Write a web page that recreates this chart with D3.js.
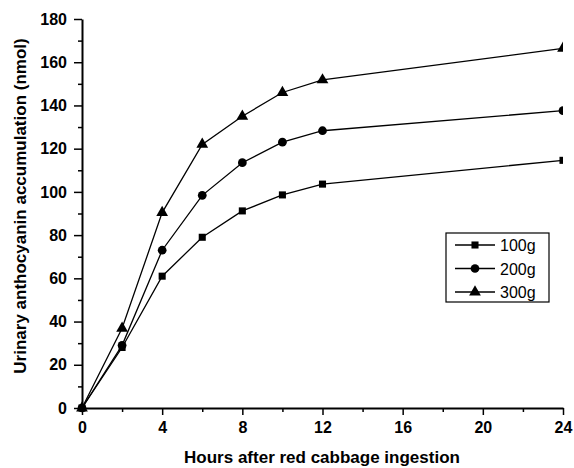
<!DOCTYPE html>
<html>
<head>
<meta charset="utf-8">
<script src="https://cdn.jsdelivr.net/npm/d3@7"></script>
<style>
  body { margin: 0; background: #fff; }
  text { font-family: Arial, "Liberation Sans", sans-serif; }
</style>
</head>
<body>
<div id="chart"></div>
<script>
// Data
const hours = [0, 2, 4, 6, 8, 10, 12, 24];
const dose100 = [0, 28, 61, 79, 91.2, 98.6, 103.6, 114.6];
const dose200 = [0, 29, 73, 98.4, 113.5, 123, 128.3, 137.6];
const dose300 = [0, 36.9, 90.4, 122, 135, 146, 151.8, 166.4];
const seriesNames = ['100g', '200g', '300g'];
const xTicks = [0, 4, 8, 12, 16, 20, 24];
const yTicks = [0, 20, 40, 60, 80, 100, 120, 140, 160, 180];

const W = 574, H = 468;
const margin = { top: 19, right: 11, bottom: 60, left: 82 };
const width = W - margin.left - margin.right;
const height = H - margin.top - margin.bottom;

const svg = d3.select('#chart')
  .append('svg')
  .attr('width', W)
  .attr('height', H);

const g = svg.append('g')
  .attr('transform', `translate(${margin.left},${margin.top})`);

const x = d3.scaleLinear().domain([0, 24]).range([0, width]);
const y = d3.scaleLinear().domain([0, 180]).range([height, 0]);

// minor ticks
g.append('g')
  .attr('transform', `translate(0,${height})`)
  .call(d3.axisBottom(x).tickValues(d3.range(2, 24, 4)).tickSize(4).tickFormat(''))
  .call(a => a.select('.domain').remove())
  .selectAll('line').attr('stroke-width', 1.5);

g.append('g')
  .call(d3.axisLeft(y).tickValues(d3.range(10, 180, 20)).tickSize(4).tickFormat(''))
  .call(a => a.select('.domain').remove())
  .selectAll('line').attr('stroke-width', 1.5);

// major axes
const xAxis = g.append('g')
  .attr('transform', `translate(0,${height})`)
  .call(d3.axisBottom(x).tickValues(xTicks).tickSize(7).tickSizeOuter(0).tickPadding(7));

const yAxis = g.append('g')
  .call(d3.axisLeft(y).tickValues(yTicks).tickSize(8).tickSizeOuter(0).tickPadding(7));

[xAxis, yAxis].forEach(a => {
  a.select('.domain').attr('stroke-width', 2);
  a.selectAll('line').attr('stroke-width', 1.5);
  a.selectAll('text')
    .style('font-size', '16px')
    .style('font-weight', 'bold')
    .attr('fill', '#000');
});

// axis titles
svg.append('text')
  .attr('x', 322)
  .attr('y', 463)
  .attr('text-anchor', 'middle')
  .style('font-size', '17px')
  .style('font-weight', 'bold')
  .text('Hours after red cabbage ingestion');

svg.append('text')
  .attr('transform', 'rotate(-90)')
  .attr('x', -206)
  .attr('y', 26)
  .attr('text-anchor', 'middle')
  .style('font-size', '17px')
  .style('font-weight', 'bold')
  .text('Urinary anthocyanin accumulation (nmol)');

// series (nested svg clips the markers at the right end of the axis)
const allSeries = [dose100, dose200, dose300];
const symbols = [d3.symbolSquare, d3.symbolCircle, d3.symbolTriangle];
const symSize = [50, 60, 60];

const line = d3.line()
  .x((d, i) => x(hours[i]))
  .y(d => y(d));

const plot = svg.append('svg')
  .attr('x', margin.left - 10)
  .attr('y', margin.top - 10)
  .attr('width', width + 10)
  .attr('height', height + 20)
  .style('overflow', 'hidden')
  .append('g')
  .attr('transform', 'translate(10,10)');

allSeries.forEach((vals, s) => {
  plot.append('path')
    .datum(vals)
    .attr('fill', 'none')
    .attr('stroke', '#000')
    .attr('stroke-width', 1.3)
    .attr('d', line);

  plot.selectAll(`.pt${s}`)
    .data(vals)
    .enter()
    .append('path')
    .attr('class', `pt${s}`)
    .attr('transform', (d, i) => `translate(${x(hours[i])},${y(d)})`)
    .attr('d', d3.symbol().type(symbols[s]).size(symSize[s]))
    .attr('fill', '#000');
});

// legend
const legend = svg.append('g')
  .attr('transform', 'translate(446,233)');

legend.append('rect')
  .attr('x', 0).attr('y', 0)
  .attr('width', 103).attr('height', 69)
  .attr('fill', '#fff')
  .attr('stroke', '#000')
  .attr('stroke-width', 1.2);

seriesNames.forEach((name, i) => {
  const yy = 12 + i * 23.5;
  legend.append('line')
    .attr('x1', 9).attr('x2', 49)
    .attr('y1', yy).attr('y2', yy)
    .attr('stroke', '#000')
    .attr('stroke-width', 1.3);
  legend.append('path')
    .attr('transform', `translate(29,${yy})`)
    .attr('d', d3.symbol().type(symbols[i]).size(symSize[i])())
    .attr('fill', '#000');
  legend.append('text')
    .attr('x', 54)
    .attr('y', yy + 6)
    .style('font-size', '16px')
    .text(name);
});
</script>
</body>
</html>
